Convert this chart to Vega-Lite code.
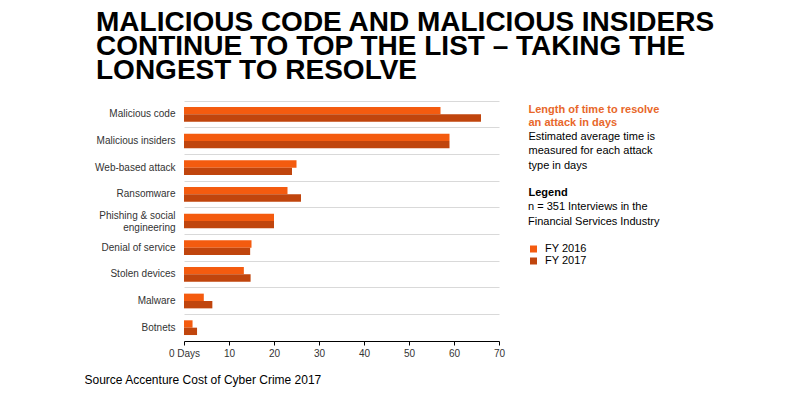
{
  "$schema": "https://vega.github.io/schema/vega-lite/v6.json",
  "width": 315,
  "height": 240,
  "autosize": {"type": "none"},
  "padding": {"left": 184, "top": 101, "right": 301, "bottom": 57},
  "background": "white",
  "config": {"view": {"stroke": null}, "font": "Liberation Sans"},
  "title": {
    "text": ["MALICIOUS CODE AND MALICIOUS INSIDERS", "CONTINUE TO TOP THE LIST – TAKING THE", "LONGEST TO RESOLVE"],
    "anchor": "start",
    "frame": "group",
    "dx": -88,
    "offset": 16,
    "fontSize": 28,
    "fontWeight": "bold",
    "lineHeight": 24,
    "color": "#000000",
    "font": "Liberation Sans"
  },
  "data": {
    "values": [
      {"attack": "Malicious code", "year": "FY 2016", "days": 57},
      {"attack": "Malicious code", "year": "FY 2017", "days": 66},
      {"attack": "Malicious insiders", "year": "FY 2016", "days": 59},
      {"attack": "Malicious insiders", "year": "FY 2017", "days": 59},
      {"attack": "Web-based attack", "year": "FY 2016", "days": 25},
      {"attack": "Web-based attack", "year": "FY 2017", "days": 24},
      {"attack": "Ransomware", "year": "FY 2016", "days": 23},
      {"attack": "Ransomware", "year": "FY 2017", "days": 26},
      {"attack": "Phishing & social engineering", "year": "FY 2016", "days": 20},
      {"attack": "Phishing & social engineering", "year": "FY 2017", "days": 20},
      {"attack": "Denial of service", "year": "FY 2016", "days": 15},
      {"attack": "Denial of service", "year": "FY 2017", "days": 14.7},
      {"attack": "Stolen devices", "year": "FY 2016", "days": 13.3},
      {"attack": "Stolen devices", "year": "FY 2017", "days": 14.8},
      {"attack": "Malware", "year": "FY 2016", "days": 4.4},
      {"attack": "Malware", "year": "FY 2017", "days": 6.3},
      {"attack": "Botnets", "year": "FY 2016", "days": 1.9},
      {"attack": "Botnets", "year": "FY 2017", "days": 2.9}
    ]
  },
  "layer": [
    {
      "mark": {"type": "bar"},
      "encoding": {
        "y": {
          "field": "attack",
          "type": "nominal",
          "sort": ["Malicious code", "Malicious insiders", "Web-based attack", "Ransomware", "Phishing & social engineering", "Denial of service", "Stolen devices", "Malware", "Botnets"],
          "scale": {"paddingInner": 0, "paddingOuter": 0},
          "axis": {
            "title": "Legend",
            "titleAngle": 0,
            "titleX": 344,
            "titleY": 94,
            "titleAlign": "left",
            "titleBaseline": "alphabetic",
            "titleFontSize": 11,
            "titleFontWeight": "bold",
            "titleColor": "#000000",
            "domain": false,
            "ticks": false,
            "grid": true,
            "gridColor": "#d9d9d9",
            "bandPosition": 0,
            "labelFontSize": 10,
            "labelColor": "#333333",
            "labelPadding": 9,
            "labelLineHeight": 12,
            "labelOffset": {"condition": {"test": "datum.value == 'Phishing & social engineering'", "value": -5}, "value": 0},
            "labelExpr": "datum.label == 'Phishing & social engineering' ? ['Phishing & social', 'engineering'] : datum.label"
          }
        },
        "yOffset": {"field": "year", "type": "nominal", "scale": {"paddingOuter": 0.81, "paddingInner": 0}},
        "x": {
          "field": "days",
          "type": "quantitative",
          "scale": {"domain": [0, 70]},
          "axis": {
            "values": [0, 10, 20, 30, 40, 50, 60, 70],
            "labelExpr": "datum.value == 0 ? '0 Days' : datum.label",
            "grid": false,
            "domainColor": "#000000",
            "tickColor": "#000000",
            "tickSize": 4,
            "labelFontSize": 10,
            "labelColor": "#333333",
            "labelPadding": 3,
            "labelFlush": false,
            "title": "Source Accenture Cost of Cyber Crime 2017",
            "titleX": -100,
            "titleY": 42,
            "titleAlign": "left",
            "titleBaseline": "alphabetic",
            "titleFontSize": 12,
            "titleFontWeight": "normal",
            "titleColor": "#000000"
          }
        },
        "color": {
          "field": "year",
          "type": "nominal",
          "scale": {"domain": ["FY 2016", "FY 2017"], "range": ["#F45B0F", "#C0450D"]},
          "legend": {
            "orient": "none",
            "legendX": 344,
            "legendY": 100,
            "title": ["n = 351 Interviews in the", "Financial Services Industry"],
            "titleFontWeight": "normal",
            "titleFontSize": 11,
            "titleColor": "#000000",
            "titleLineHeight": 14.5,
            "titlePadding": 17,
            "symbolType": "square",
            "symbolSize": 49,
            "symbolStrokeWidth": 0,
            "symbolOpacity": 1,
            "labelFontSize": 11,
            "labelColor": "#000000",
            "labelOffset": 6,
            "rowPadding": 0,
            "padding": 0
          }
        }
      }
    },
    {
      "mark": {"type": "bar", "opacity": 0},
      "encoding": {
        "y": {
          "field": "attack",
          "type": "nominal",
          "sort": ["Malicious code", "Malicious insiders", "Web-based attack", "Ransomware", "Phishing & social engineering", "Denial of service", "Stolen devices", "Malware", "Botnets"],
          "axis": {
            "orient": "right",
            "labels": false,
            "ticks": false,
            "domain": false,
            "grid": false,
            "title": ["Length of time to resolve", "an attack in days"],
            "titleAngle": 0,
            "titleX": 29,
            "titleY": 11,
            "titleAlign": "left",
            "titleBaseline": "alphabetic",
            "titleFontSize": 11,
            "titleFontWeight": "bold",
            "titleLineHeight": 13.5,
            "titleColor": "#E8672A"
          }
        },
        "x": {
          "field": "days",
          "type": "quantitative",
          "axis": {
            "orient": "top",
            "labels": false,
            "ticks": false,
            "domain": false,
            "grid": false,
            "title": ["Estimated average time is", "measured for each attack", "type in days"],
            "titleX": 344,
            "titleY": 38,
            "titleAlign": "left",
            "titleBaseline": "alphabetic",
            "titleFontSize": 11,
            "titleFontWeight": "normal",
            "titleLineHeight": 14.5,
            "titleColor": "#000000"
          }
        }
      }
    }
  ],
  "resolve": {"axis": {"x": "independent", "y": "independent"}}
}
